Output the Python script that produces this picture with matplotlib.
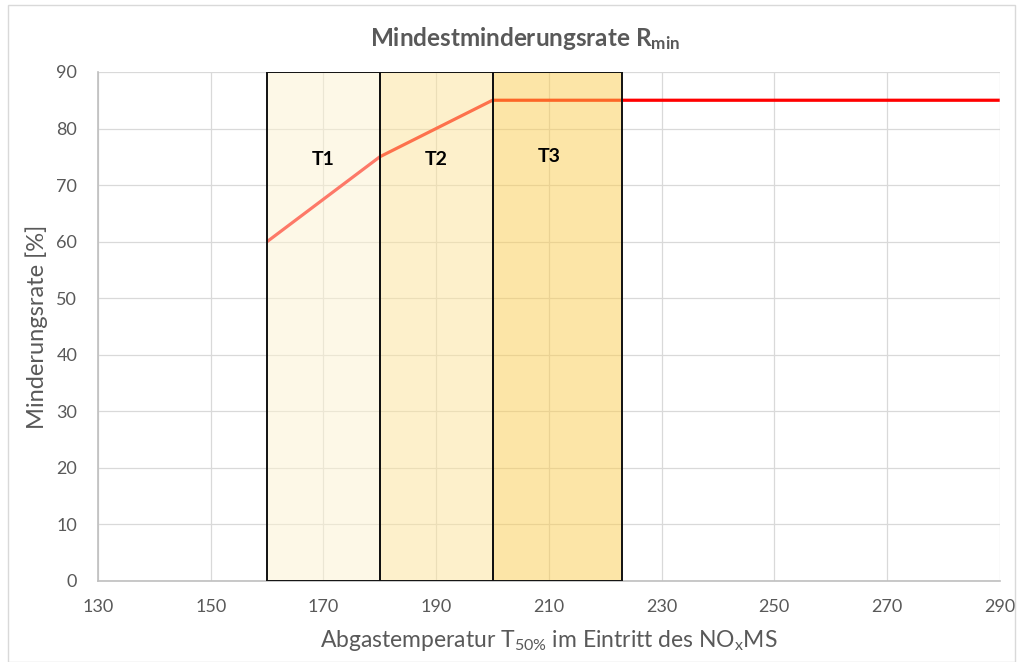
import matplotlib.pyplot as plt
from matplotlib.patches import Rectangle

# Mindestminderungsrate über Abgastemperatur
temp = [160, 180, 200, 290]
rate = [60, 75, 85, 85]

# Temperaturbereiche T1..T3
zone_names = ['T1', 'T2', 'T3']
zone_start = [160, 180, 200]
zone_end = [180, 200, 223]
zone_colors = ['#fdf3d1', '#fde399', '#fbcd50']
label_x = [170, 190, 210]
label_y = [74.5, 74.5, 75]

plt.rcParams['font.family'] = ['Lato', 'DejaVu Sans']
plt.rcParams['mathtext.fontset'] = 'custom'
plt.rcParams['mathtext.rm'] = 'Lato'
plt.rcParams['mathtext.it'] = 'Lato'

grey = '#595959'
fig = plt.figure(figsize=(10.17, 6.62), dpi=100)
ax = fig.add_axes([0.0964, 0.1224, 0.8866, 0.7689])

ax.plot(temp, rate, color='#ff0000', lw=2.3, zorder=2, solid_capstyle='butt')

for name, x0, x1, c, lx, ly in zip(zone_names, zone_start, zone_end, zone_colors, label_x, label_y):
    ax.add_patch(Rectangle((x0, 0), x1 - x0, 90, facecolor=c, alpha=0.5,
                           edgecolor='none', zorder=3))
    ax.add_patch(Rectangle((x0, 0), x1 - x0, 90, facecolor='none',
                           edgecolor='#111111', lw=1.4, zorder=4))
    ax.text(lx, ly, name, ha='center', va='center',
            fontsize=14, fontweight='bold', color='black', zorder=5)

ax.set_xlim(130, 290)
ax.set_ylim(0, 90)
ax.set_xticks(range(130, 291, 20))
ax.set_yticks(range(0, 91, 10))
ax.grid(True, color='#d9d9d9', lw=0.9, zorder=0)
ax.set_axisbelow(True)
for s in ['top', 'right']:
    ax.spines[s].set_visible(False)
for s in ['left', 'bottom']:
    ax.spines[s].set_color('#bfbfbf')
    ax.spines[s].set_linewidth(1.2)
ax.tick_params(length=0, labelsize=13, colors=grey)
ax.tick_params(axis='x', pad=13)
ax.tick_params(axis='y', pad=15)

ax.set_ylabel('Minderungsrate [%]', fontsize=17, color=grey, labelpad=6)
ax.set_xlabel(r'Abgastemperatur T$_{\mathregular{50\%}}$ im Eintritt des NO$_{\mathregular{x}}$MS',
              fontsize=16.5, color=grey, labelpad=9)
fig.text(0.516, 0.942, r'Mindestminderungsrate R$_{\mathregular{min}}$', ha='center', va='center',
         fontsize=17.5, fontweight='bold', color=grey)

fig.patches.append(Rectangle((0.008, 0.0), 0.99, 0.993, transform=fig.transFigure,
                             facecolor='none', edgecolor='#d9d9d9', lw=1))

fig.savefig('out.png', dpi=100)
